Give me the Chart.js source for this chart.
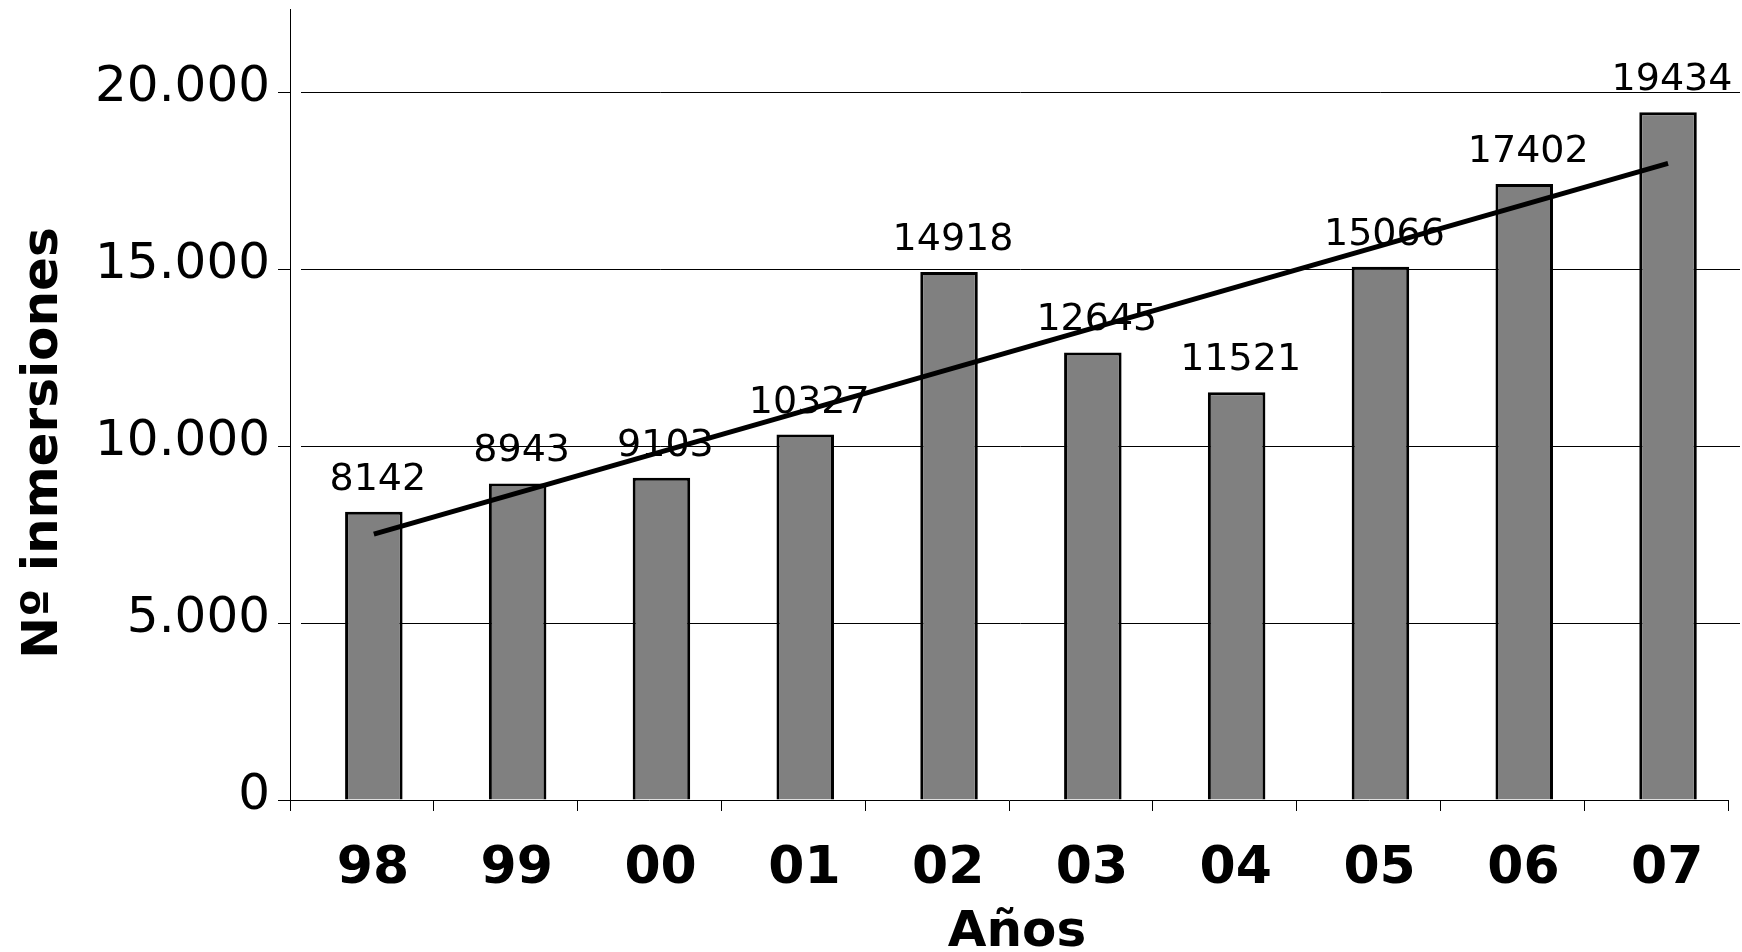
<!DOCTYPE html>
<html>
<head>
<meta charset="utf-8">
<script src="https://cdn.jsdelivr.net/npm/chart.js@4"></script>
<style>
  html, body { margin: 0; padding: 0; background: #ffffff; }
  #wrap { width: 1742px; height: 952px; position: relative; }
</style>
</head>
<body>
<div id="wrap"><canvas id="chart" width="1742" height="952"></canvas></div>
<script>
// Años (1998-2007) y número de inmersiones por año
const years = ['98', '99', '00', '01', '02', '03', '04', '05', '06', '07'];
const dives = [8142, 8943, 9103, 10327, 14918, 12645, 11521, 15066, 17402, 19434];
const yTicks = [0, 5000, 10000, 15000, 20000];
const yMax = 22350;
const xTitle = 'Años';
const yTitle = 'Nº inmersiones';

const FONT = "'DejaVu Sans', Verdana, sans-serif";
// bars and gridlines sit a little to the right of the axis frame
const markShift = 0.083;   // fraction of one category
const xMin = -0.5 - markShift;
const xMax = years.length - 0.5 - markShift;
// category boundaries, where the axis tick marks go
const xBounds = years.map((_, i) => xMin + i).concat([xMax]);

// Linear least-squares trend over the yearly counts (two end points)
function linearTrend(values) {
  const n = values.length;
  const mx = (n - 1) / 2;
  const my = values.reduce((a, b) => a + b, 0) / n;
  let sxy = 0, sxx = 0;
  values.forEach((v, i) => { sxy += (i - mx) * (v - my); sxx += (i - mx) * (i - mx); });
  const slope = sxy / sxx;
  const icpt = my - slope * mx;
  return [{ x: 0, y: icpt }, { x: n - 1, y: icpt + slope * (n - 1) }];
}
const trend = linearTrend(dives);
const barPoints = dives.map((v, i) => ({ x: i, y: v }));

function fmtThousands(v) {
  return String(v).replace(/\B(?=(\d{3})+(?!\d))/g, '.');
}

// Horizontal gridlines, slightly shifted to the right of the value axis
const gridPlugin = {
  id: 'gridPlugin',
  beforeDatasetsDraw(chart) {
    const { ctx, chartArea } = chart;
    const y = chart.scales.y;
    ctx.save();
    ctx.strokeStyle = '#000';
    ctx.lineWidth = 1;
    yTicks.forEach(v => {
      if (v === 0) return;
      const py = Math.round(y.getPixelForValue(v)) + 0.5;
      ctx.beginPath();
      ctx.moveTo(chartArea.left + 11, py);
      ctx.lineTo(chartArea.right + 12, py);
      ctx.stroke();
    });
    ctx.restore();
  }
};

// Value labels above each bar and both axis titles
const labelPlugin = {
  id: 'labelPlugin',
  afterDatasetsDraw(chart) {
    const { ctx } = chart;
    const meta = chart.getDatasetMeta(1);
    ctx.save();
    ctx.fillStyle = '#000';
    ctx.font = '38px ' + FONT;
    ctx.textAlign = 'center';
    ctx.textBaseline = 'alphabetic';
    meta.data.forEach((bar, i) => {
      ctx.fillText(String(dives[i]), bar.x + 4, bar.y - 22);
    });

    ctx.font = 'bold 50px ' + FONT;
    ctx.fillText(xTitle, 1017, 946);

    ctx.translate(57, 443);
    ctx.rotate(-Math.PI / 2);
    ctx.fillText(yTitle, 0, 0);
    ctx.restore();
  }
};

new Chart(document.getElementById('chart'), {
  data: {
    datasets: [
      {
        type: 'line',
        data: trend,
        borderColor: '#000',
        borderWidth: 5,
        pointRadius: 0,
        fill: false,
        order: 0
      },
      {
        type: 'bar',
        data: barPoints,
        backgroundColor: '#808080',
        borderColor: '#000',
        borderWidth: 3,
        categoryPercentage: 1.0,
        barPercentage: 0.4,
        order: 1
      }
    ]
  },
  options: {
    responsive: false,
    animation: false,
    devicePixelRatio: 1,
    layout: { padding: { top: 9, right: 14, left: 0, bottom: 0 } },
    plugins: {
      legend: { display: false },
      tooltip: { enabled: false },
      title: { display: false }
    },
    scales: {
      x: {
        type: 'linear',
        min: xMin,
        max: xMax,
        offset: false,
        grid: {
          offset: false,
          drawOnChartArea: false,
          drawTicks: true,
          tickLength: 11,
          color: '#000',
          lineWidth: 1
        },
        border: { display: true, color: '#000', width: 1 },
        ticks: {
          color: '#000',
          padding: 27,
          labelOffset: 83,
          maxRotation: 0,
          autoSkip: false,
          font: { family: FONT, size: 52, weight: 'bold' },
          callback: (value, index) => (index < years.length ? years[index] : '')
        },
        afterBuildTicks(scale) {
          scale.ticks = xBounds.map(v => ({ value: v }));
        },
        afterFit(scale) {
          scale.height = 152;
          scale.paddingLeft = 0;
          scale.paddingRight = 0;
        }
      },
      y: {
        type: 'linear',
        min: 0,
        max: yMax,
        grid: {
          drawOnChartArea: false,
          drawTicks: true,
          tickLength: 12,
          color: '#000',
          lineWidth: 1
        },
        border: { display: true, color: '#000', width: 1 },
        ticks: {
          stepSize: 5000,
          includeBounds: false,
          color: '#000',
          padding: 8,
          labelOffset: -4,
          font: { family: FONT, size: 50 },
          callback: v => fmtThousands(v)
        },
        afterBuildTicks(scale) {
          scale.ticks = yTicks.map(v => ({ value: v }));
        },
        afterFit(scale) {
          scale.width = 290;
          scale.paddingTop = 0;
          scale.paddingBottom = 0;
        }
      }
    }
  },
  plugins: [gridPlugin, labelPlugin]
});
</script>
</body>
</html>
